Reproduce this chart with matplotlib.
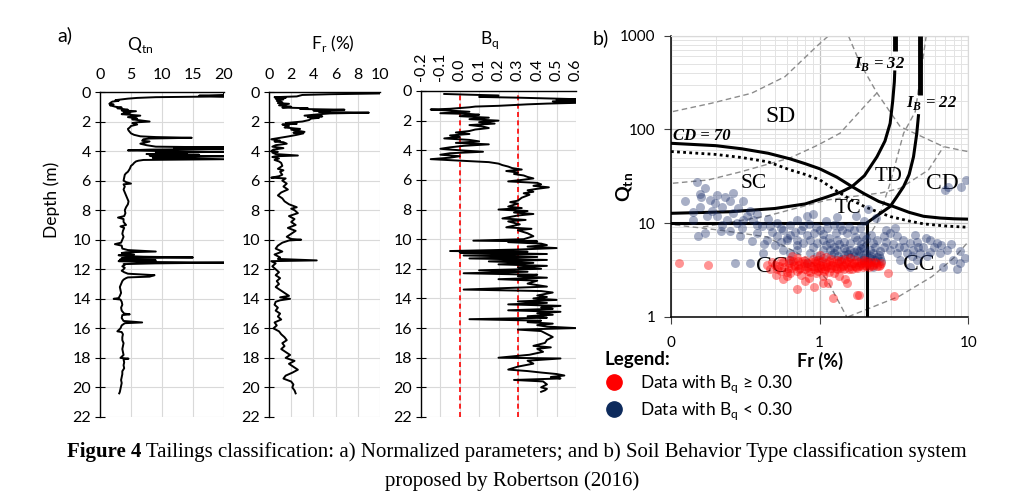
import numpy as np
import matplotlib
matplotlib.use("Agg")
import matplotlib.pyplot as plt
from matplotlib.lines import Line2D
from matplotlib.ticker import LogLocator, NullFormatter

# ========================= Data =========================
# CPT profile: normalized cone resistance Qtn vs depth (m)
qtn_depth = [0.00, 0.10, 0.20, 0.25, 0.30, 0.35, 0.40, 0.45, 0.50, 0.55, 0.60, 0.65, 0.70, 0.80, 0.85, 0.90,
             1.00, 1.05, 1.10, 1.20, 1.25, 1.30, 1.40, 1.45, 1.50, 1.60, 1.70, 1.80, 1.85, 1.95, 2.00, 2.05,
             2.10, 2.20, 2.30, 2.40, 2.50, 2.60, 2.70, 2.80, 2.90, 3.00, 3.05, 3.10, 3.15, 3.20, 3.30, 3.35,
             3.40, 3.50, 3.60, 3.70, 3.75, 3.80, 3.85, 3.90, 3.95, 4.00, 4.05, 4.10, 4.15, 4.20, 4.25, 4.30,
             4.35, 4.40, 4.45, 4.50, 4.55, 4.60, 4.65, 4.70, 4.80, 4.90, 5.00, 5.20, 5.40, 5.50, 5.60, 5.80,
             6.00, 6.10, 6.20, 6.25, 6.40, 6.60, 6.80, 7.00, 7.20, 7.40, 7.60, 7.80, 8.00, 8.20, 8.40, 8.50,
             8.60, 8.80, 9.00, 9.10, 9.20, 9.40, 9.60, 9.80, 10.00, 10.20, 10.30, 10.40, 10.60, 10.70, 10.80,
             10.85, 10.90, 11.00, 11.05, 11.10, 11.15, 11.20, 11.25, 11.30, 11.35, 11.40, 11.45, 11.50, 11.55,
             11.60, 11.65, 11.70, 11.80, 11.90, 12.00, 12.10, 12.20, 12.30, 12.40, 12.50, 12.55, 12.60, 12.70,
             12.80, 13.00, 13.20, 13.40, 13.60, 13.80, 13.95, 14.00, 14.05, 14.20, 14.40, 14.60, 14.80, 15.00,
             15.05, 15.10, 15.30, 15.50, 15.60, 15.65, 15.80, 16.00, 16.20, 16.25, 16.40, 16.60, 16.80, 17.00,
             17.20, 17.40, 17.60, 17.80, 18.00, 18.05, 18.10, 18.30, 18.50, 18.70, 18.90, 19.10, 19.30, 19.50,
             19.70, 19.90, 20.10, 20.30, 20.40]
qtn_vals = [20, 20, 20, 16, 20, 9, 6, 4.5, 3.5, 2.5, 3.0, 2.0, 1.8, 1.5, 2.2, 1.6,
            2.5, 3.5, 2.8, 4.5, 3.5, 5.8, 3.8, 4.8, 3.5, 6.5, 4.5, 6.0, 5.2, 7.0, 8.0, 6.0,
            5.2, 6.0, 5.0, 4.8, 4.5, 4.6, 4.8, 5.0, 5.5, 6.5, 9.0, 14.8, 8.0, 7.0, 6.8, 8.0,
            7.5, 6.5, 7.5, 9.0, 20, 12, 20, 8.0, 4.5, 10.0, 20, 9.0, 14, 7.5, 16, 8.0,
            20, 12, 8.5, 14, 20, 7.0, 6.2, 5.8, 5.5, 5.3, 5.0, 4.8, 4.5, 4.2, 4.0, 3.9,
            3.8, 4.2, 5.0, 3.8, 4.0, 3.8, 4.0, 4.2, 4.4, 4.6, 4.5, 4.2, 4.0, 4.1, 3.9, 2.9,
            3.8, 3.8, 4.2, 3.3, 3.9, 3.7, 3.6, 3.8, 3.6, 3.4, 2.4, 3.5, 3.6, 4.5, 9.0,
            4.2, 3.5, 5.5, 3.0, 4.0, 7.0, 15.0, 3.5, 5.5, 3.2, 9.0, 3.0, 6.0, 20,
            9.0, 3.8, 4.0, 3.6, 4.0, 3.8, 3.5, 3.9, 4.5, 8.8, 8.0, 4.5, 4.2, 3.8,
            3.6, 3.4, 3.2, 3.3, 3.4, 3.2, 3.0, 2.2, 3.3, 3.5, 3.6, 3.4, 3.5, 3.9,
            4.8, 3.6, 3.5, 3.8, 6.8, 4.0, 3.5, 3.3, 2.8, 3.5, 3.7, 3.6, 3.6, 3.8,
            3.7, 3.6, 3.7, 3.8, 3.3, 4.6, 3.8, 3.9, 3.8, 3.9, 3.6, 3.6, 3.5, 3.4,
            3.5, 3.4, 3.3, 3.2, 3.1]

# friction ratio Fr (%) vs depth (m)
fr_depth = [0.00, 0.10, 0.15, 0.20, 0.30, 0.35, 0.40, 0.45, 0.50, 0.60, 0.70, 0.75, 0.80, 0.90, 1.00, 1.05,
            1.10, 1.15, 1.20, 1.25, 1.30, 1.35, 1.40, 1.45, 1.50, 1.60, 1.65, 1.70, 1.75, 1.80, 1.90, 2.00,
            2.05, 2.10, 2.15, 2.20, 2.30, 2.40, 2.50, 2.55, 2.60, 2.70, 2.75, 2.80, 2.90, 3.00, 3.10, 3.20,
            3.30, 3.35, 3.40, 3.50, 3.60, 3.70, 3.80, 3.90, 4.00, 4.05, 4.10, 4.20, 4.30, 4.35, 4.40, 4.50,
            4.60, 4.70, 4.80, 5.00, 5.20, 5.30, 5.40, 5.60, 5.70, 5.80, 5.85, 6.00, 6.20, 6.40, 6.60, 6.80,
            7.00, 7.20, 7.40, 7.60, 7.80, 7.90, 8.00, 8.20, 8.40, 8.60, 8.80, 9.00, 9.20, 9.40, 9.60, 9.80,
            9.95, 10.00, 10.05, 10.20, 10.40, 10.60, 10.80, 11.00, 11.20, 11.30, 11.40, 11.45, 11.60, 11.80,
            12.00, 12.20, 12.40, 12.60, 12.80, 13.00, 13.20, 13.40, 13.60, 13.80, 13.90, 14.00, 14.10, 14.20,
            14.40, 14.60, 14.80, 15.00, 15.20, 15.40, 15.60, 15.80, 16.00, 16.20, 16.40, 16.60, 16.80, 17.00,
            17.20, 17.40, 17.60, 17.80, 18.00, 18.20, 18.40, 18.60, 18.80, 19.00, 19.20, 19.40, 19.60, 19.80,
            20.00, 20.20, 20.40]
fr_vals = [10, 10, 5.5, 3.0, 2.5, 0.5, 1.5, 0.6, 1.3, 0.7, 1.2, 0.8, 1.8, 0.9, 2.0, 1.2,
           3.5, 2.8, 6.8, 4.0, 5.5, 4.5, 9.0, 5.5, 4.6, 3.2, 4.8, 3.5, 4.5, 3.8, 3.6, 3.0,
           2.2, 1.5, 2.5, 1.2, 1.8, 1.4, 2.8, 2.0, 2.4, 3.2, 2.2, 3.1, 2.5, 1.8, 1.0, 0.2,
           1.0, 0.5, 1.3, 1.6, 0.6, 0.3, 1.3, 0.4, 0.2, 0.8, 0.3, 0.6, 2.6, 0.6, 0.3, 0.9,
           0.5, 0.9, 1.1, 1.2, 0.8, 1.3, 1.0, 1.2, 0.9, 0.2, 1.5, 1.2, 1.6, 1.3, 1.7, 1.1,
           0.8, 1.2, 1.4, 1.8, 2.5, 2.0, 2.3, 2.6, 1.8, 2.3, 2.0, 2.4, 1.7, 2.4, 2.0, 1.6,
           2.0, 2.9, 1.8, 1.2, 0.8, 0.6, 1.2, 0.5, 1.0, 0.8, 4.3, 0.2, 0.6, 0.3,
           0.6, 0.9, 0.6, 1.0, 0.7, 0.9, 0.6, 1.0, 1.4, 1.8, 1.0, 1.9, 1.0, 0.6,
           0.5, 0.8, 0.6, 1.0, 0.8, 1.1, 0.5, 0.7, 0.4, 0.9, 1.1, 1.4, 1.6, 1.2,
           1.4, 1.1, 1.5, 1.9, 1.5, 2.3, 1.8, 2.2, 2.6, 2.1, 1.5, 1.3, 2.0, 2.2,
           2.1, 2.3, 2.4]

# pore pressure ratio Bq vs depth (m)
bq_depth = [0.20, 0.25, 0.30, 0.40, 0.45, 0.50, 0.55, 0.60, 0.65, 0.70, 0.80, 0.85, 0.90, 1.00, 1.05, 1.10,
            1.20, 1.25, 1.30, 1.40, 1.50, 1.55, 1.60, 1.70, 1.80, 1.90, 2.00, 2.10, 2.20, 2.30, 2.40, 2.50,
            2.60, 2.70, 2.80, 2.90, 3.00, 3.10, 3.20, 3.30, 3.40, 3.50, 3.60, 3.70, 3.80, 3.90, 4.00, 4.10,
            4.20, 4.30, 4.40, 4.50, 4.60, 4.70, 4.80, 4.90, 5.00, 5.10, 5.20, 5.30, 5.40, 5.50, 5.60, 5.70,
            5.80, 5.90, 6.00, 6.10, 6.20, 6.30, 6.40, 6.50, 6.60, 6.70, 6.80, 6.90, 7.00, 7.20, 7.40, 7.50,
            7.60, 7.80, 7.90, 8.00, 8.10, 8.20, 8.30, 8.40, 8.60, 8.70, 8.80, 9.00, 9.20, 9.30, 9.40, 9.60,
            9.80, 10.00, 10.10, 10.15, 10.20, 10.30, 10.40, 10.50, 10.60, 10.70, 10.80, 10.85, 10.90, 11.00,
            11.10, 11.20, 11.30, 11.40, 11.50, 11.60, 11.70, 11.80, 11.90, 12.00, 12.10, 12.20, 12.30, 12.40,
            12.50, 12.60, 12.70, 12.80, 13.00, 13.20, 13.40, 13.50, 13.60, 13.80, 13.90, 14.00, 14.10, 14.20,
            14.30, 14.40, 14.50, 14.60, 14.70, 14.80, 14.90, 15.00, 15.10, 15.20, 15.30, 15.40, 15.50, 15.60,
            15.70, 15.80, 15.90, 16.00, 16.10, 16.20, 16.40, 16.60, 16.80, 17.00, 17.20, 17.30, 17.40, 17.60,
            17.80, 18.00, 18.05, 18.20, 18.40, 18.60, 18.80, 18.90, 19.00, 19.10, 19.20, 19.30, 19.40, 19.50,
            19.60, 19.80, 20.00, 20.10, 20.20, 20.30]
bq_vals = [-0.08, 0.05, 0.2, 0.1, 0.3, 0.45, 0.6, 0.5, 0.6, 0.48, 0.6, 0.45, 0.35, 0.2, 0.08, 0.05,
           -0.05, -0.15, -0.08, 0.05, -0.1, 0.05, 0.1, 0.0, 0.15, 0.05, 0.2, 0.1, 0.18, 0.05, 0.12, 0.15,
           0.08, 0.05, -0.02, 0.05, -0.05, 0.0, -0.08, 0.05, 0.1, -0.02, 0.15, 0.02, -0.05, -0.1, 0.0, 0.12,
           -0.05, -0.1, 0.0, -0.05, -0.15, 0.0, 0.15, 0.2, 0.22, 0.25, 0.27, 0.32, 0.24, 0.3, 0.28, 0.33,
           0.35, 0.38, 0.32, 0.25, 0.4, 0.42, 0.38, 0.46, 0.4, 0.35, 0.38, 0.33, 0.36, 0.32, 0.3, 0.26,
           0.3, 0.25, 0.32, 0.2, 0.35, 0.28, 0.38, 0.3, 0.22, 0.34, 0.25, 0.31, 0.24, 0.37, 0.3, 0.35,
           0.38, 0.33, 0.07, 0.4, 0.25, 0.42, 0.45, 0.35, 0.5, 0.3, -0.05, 0.35, 0.0, 0.45,
           0.02, 0.4, 0.05, 0.45, 0.15, 0.38, 0.2, 0.45, 0.3, 0.42, 0.1, 0.35, 0.02, 0.4,
           0.3, 0.45, 0.2, 0.4, 0.35, 0.45, 0.02, 0.42, 0.48, 0.4, 0.45, 0.38, 0.5, 0.3,
           0.45, 0.25, 0.52, 0.42, 0.48, 0.25, 0.52, 0.4, 0.48, 0.35, 0.45, 0.05, 0.42, 0.35,
           0.48, 0.4, 0.45, 0.6, 0.3, 0.42, 0.45, 0.48, 0.45, 0.44, 0.38, 0.47, 0.4, 0.43,
           0.36, 0.2, 0.52, 0.35, 0.38, 0.3, 0.25, 0.35, 0.42, 0.5, 0.54, 0.47, 0.52, 0.28,
           0.43, 0.45, 0.42, 0.45, 0.44, 0.42]
bq_limits = [0.0, 0.3]

# SBTn chart boundaries (Robertson 2016)
cd70_fr = [0.1, 0.2, 0.3, 0.45, 0.63, 0.8, 1.0, 1.3, 1.65, 2.0, 2.5, 3.14, 4.0, 5.0, 6.5, 8.0, 10]
cd70_q = [71, 67, 62, 55.6, 48.5, 43, 38, 31, 24.5, 20.5, 17, 15, 13, 11.8, 11.3, 11.1, 11.0]
dot_fr = [0.1, 0.2, 0.3, 0.45, 0.63, 0.8, 1.0, 1.3, 1.65, 2.0, 2.5, 3.0, 4.0, 5.0, 7.0, 10]
dot_q = [58, 54, 50, 45, 37, 33, 29, 22, 17.5, 15, 13, 11.7, 10.5, 9.8, 9.3, 9.0]
ib32_fr = [0.1, 0.25, 0.5, 0.8, 1.1, 1.4, 1.65, 2.0, 2.43, 2.75, 2.98, 3.1, 3.18, 3.2]
ib32_q = [12.7, 13.2, 14.3, 16, 18.8, 21.5, 24.5, 32, 51, 75, 116, 200, 320, 410]
ib32_top_fr = [3.2, 3.2]
ib32_top_q = [690, 1000]
ib22_fr = [2.07, 2.4, 2.98, 3.3, 3.67, 4.0, 4.28, 4.5, 4.62]
ib22_q = [10, 11.8, 15, 19, 24.5, 33, 51, 90, 140]
ib22_top_fr = [4.75, 4.75]
ib22_top_q = [230, 1000]
cc_box_fr = [0.1, 2.07, 2.07]
cc_box_q = [10, 10, 1]

# background dashed contours
dashed_lines = [
    ([0.103, 0.187, 0.348, 0.584, 0.977, 1.15], [155, 190, 243, 365, 796, 1000]),
    ([1.56, 1.87, 2.43, 3.48, 6.82, 10], [1000, 508, 245, 107, 65.4, 57.8]),
    ([0.103, 0.177, 0.292, 0.632, 0.977, 1.37, 2.19, 2.43], [26.6, 28.8, 35.1, 49.5, 68.2, 90.9, 206, 245]),
    ([0.106, 0.207, 0.443, 0.863, 1.12, 1.52], [9.55, 8.44, 7.11, 4.04, 2.47, 1.0]),
    ([1.56, 3.40, 5.70, 8.17, 10], [1.0, 1.64, 2.68, 4.38, 6.33]),
    ([0.164, 0.443, 1.12, 1.8, 2.6, 3.48, 5.4, 6.82], [9.08, 11.9, 17.6, 19.5, 21, 23.5, 36.9, 65.4]),
    ([5.21, 4.40, 3.67, 2.98, 2.43, 1.87], [1000, 155, 90.9, 26.6, 9.95, 5.16]),
]

# CPT data points on the chart, (Fr %, Qtn)
blue_pts = [(0.149, 27.6), (0.157, 20.5), (0.169, 23.4), (0.183, 17.6), (0.203, 19.8), (0.198, 16.2),
            (0.219, 15.0), (0.231, 19.0), (0.249, 17.2), (0.262, 12.7), (0.283, 14.4), (0.306, 17.2),
            (0.323, 11.8), (0.340, 13.5), (0.157, 15.0), (0.174, 11.8), (0.203, 11.8), (0.237, 10.9),
            (0.276, 10.0), (0.306, 10.9), (0.358, 10.9), (0.377, 9.6), (0.141, 10.9), (0.124, 17.2),
            (0.159, 19.0), (0.152, 7.2), (0.169, 7.8), (0.217, 8.2), (0.268, 3.7), (0.249, 8.2),
            (0.291, 7.2), (0.377, 7.8), (0.407, 9.2), (0.464, 9.2), (0.514, 10.0), (0.570, 8.5),
            (0.632, 9.6), (0.701, 10.9), (0.777, 9.2), (0.82, 11.8), (0.632, 7.5), (0.514, 7.2),
            (0.44, 6.6), (0.60, 6.6), (0.701, 6.6), (0.82, 7.5), (0.91, 7.8), (1.0, 8.5),
            (1.12, 8.8), (1.24, 9.6), (1.37, 9.2), (1.52, 7.8), (1.69, 8.5), (1.87, 8.8),
            (0.777, 6.1), (0.862, 6.6), (0.956, 6.1), (1.06, 6.6), (1.175, 6.1), (1.30, 6.6),
            (1.45, 6.3), (1.60, 6.1), (1.78, 6.6), (1.97, 7.2), (1.06, 5.2), (1.175, 5.2),
            (1.30, 5.2), (1.45, 5.4), (1.60, 5.2), (1.78, 5.2), (1.97, 5.6), (2.18, 5.2),
            (2.30, 6.1), (2.42, 6.6), (2.69, 7.2), (2.97, 7.8), (3.30, 7.2), (3.66, 6.6),
            (4.05, 6.1), (4.49, 6.3), (4.98, 5.6), (5.53, 6.6), (6.13, 6.1), (2.69, 5.6),
            (2.97, 5.2), (3.30, 4.8), (3.85, 4.8), (4.27, 5.2), (4.73, 4.8), (5.25, 4.4),
            (6.45, 4.8), (7.15, 5.2), (7.93, 4.0), (8.8, 3.7), (6.79, 3.4), (8.35, 3.2),
            (3.48, 4.0), (4.05, 3.4), (4.49, 4.0), (9.6, 28.8), (7.35, 24.4), (7.0, 22.5),
            (9.0, 24.0), (0.418, 4.8), (0.340, 3.7), (0.570, 5.2), (0.632, 4.8), (0.701, 5.2),
            (0.862, 4.8), (0.956, 4.4), (1.06, 4.2), (1.24, 4.8), (1.45, 4.6), (1.69, 4.4),
            (1.97, 4.6), (2.18, 4.2), (2.36, 4.0), (2.55, 4.2), (2.30, 3.4), (0.632, 4.0),
            (0.82, 3.7), (2.0, 10.5), (2.4, 11.2), (1.75, 12.0), (2.1, 14.0), (1.8, 4.4),
            (1.9, 4.0), (2.0, 4.2), (2.1, 3.9), (2.2, 4.5), (1.7, 4.9), (1.6, 4.3),
            (1.5, 5.0), (1.4, 4.1), (2.3, 4.8), (2.5, 4.6), (2.6, 3.9), (1.25, 5.6), (1.35, 6.0),
            (0.48, 8.0), (0.55, 8.8), (0.6, 7.0), (0.68, 8.0), (0.75, 8.4), (0.85, 9.8),
            (0.95, 9.0), (1.05, 7.6), (1.15, 7.0), (1.28, 7.9), (1.42, 8.5), (1.58, 9.0),
            (1.72, 7.1), (1.9, 6.0), (2.05, 6.8), (2.2, 7.5), (2.35, 5.5), (2.55, 5.0),
            (2.8, 6.3), (3.1, 6.0), (3.4, 5.6), (3.7, 5.5), (4.2, 4.4), (4.6, 5.6),
            (5.5, 4.9), (5.9, 5.5), (6.6, 5.8), (7.6, 6.0), (8.8, 5.0), (9.5, 4.2),
            (0.5, 5.8), (0.55, 6.2), (0.7, 5.8), (0.9, 5.6), (1.1, 5.8), (1.2, 4.6),
            (1.33, 4.4), (1.55, 4.7), (1.85, 5.0), (2.05, 4.8), (2.25, 4.1), (2.45, 4.3),
            (2.0, 3.7), (1.9, 5.4), (0.42, 6.0), (0.35, 6.5), (0.3, 8.8), (0.22, 9.5),
            (0.19, 13.5), (0.26, 21.0), (0.14, 13.0), (0.38, 12.5), (0.45, 11.0), (0.9, 12.5),
            (1.1, 10.5), (1.3, 11.5), (2.8, 8.5), (3.2, 8.8), (4.4, 7.4), (5.2, 7.0)]
red_pts = [(0.114, 3.7), (0.177, 3.6),
           (0.5, 3.6), (0.52, 3.2), (0.55, 3.9), (0.58, 3.4), (0.6, 3.0), (0.62, 3.7), (0.64, 3.3),
           (0.66, 3.9), (0.68, 3.5), (0.7, 3.1), (0.72, 3.6), (0.74, 3.3), (0.76, 3.9), (0.78, 3.5),
           (0.8, 3.2), (0.82, 3.7), (0.84, 3.4), (0.86, 3.0), (0.88, 3.8), (0.9, 3.5), (0.92, 3.2),
           (0.94, 3.7), (0.96, 3.4), (0.98, 3.1), (1.0, 3.6), (1.02, 3.3), (1.04, 3.9), (1.06, 3.5),
           (1.08, 3.2), (1.1, 3.7), (1.12, 3.4), (1.15, 3.0), (1.18, 3.6), (1.2, 3.3), (1.23, 3.8),
           (1.26, 3.5), (1.3, 3.2), (1.33, 3.7), (1.36, 3.4), (1.4, 3.9), (1.43, 3.5), (1.46, 3.2),
           (1.5, 3.7), (1.54, 3.4), (1.58, 3.8), (1.62, 3.5), (1.66, 3.2), (1.7, 3.7), (1.75, 3.4),
           (1.8, 3.8), (1.85, 3.5), (1.9, 3.7), (1.95, 3.4), (2.0, 3.8), (2.05, 3.5), (2.1, 3.7),
           (2.15, 3.4), (2.2, 3.8), (2.3, 3.6), (2.4, 3.7), (2.5, 3.5), (2.6, 3.7), (0.7, 4.2),
           (0.9, 4.1), (1.1, 4.3), (1.3, 4.0), (1.6, 4.2), (0.6, 2.7), (0.75, 2.8), (0.95, 2.9),
           (1.25, 2.9), (0.85, 2.6), (1.05, 2.7), (0.65, 4.4), (1.0, 4.6), (0.55, 3.1), (0.63, 2.9),
           (0.57, 2.5), (0.51, 2.8), (0.70, 2.0), (0.91, 2.1), (1.06, 2.3), (1.23, 1.6), (1.78, 1.7),
           (1.52, 2.3), (1.14, 2.3), (1.47, 2.5), (1.83, 1.7), (3.14, 1.66), (2.9, 2.9), (0.46, 3.2),
           (0.48, 3.8), (0.44, 3.6), (0.8, 2.4), (1.35, 2.7),
           (0.53, 3.5), (0.57, 3.8), (0.61, 3.3), (0.67, 3.6), (0.71, 3.9), (0.73, 3.2), (0.79, 3.7),
           (0.83, 3.1), (0.87, 3.5), (0.93, 3.9), (0.97, 3.3), (1.01, 3.8), (1.07, 3.1), (1.11, 3.5),
           (1.16, 3.9), (1.21, 3.6), (1.28, 3.3), (1.34, 3.9), (1.39, 3.3), (1.45, 3.6), (1.52, 3.9),
           (1.57, 3.2), (1.64, 3.7), (1.72, 3.5), (1.78, 3.3), (1.88, 3.6), (1.98, 3.6), (2.08, 3.9),
           (2.18, 3.6), (2.25, 3.5), (2.35, 3.8), (2.45, 3.5), (2.55, 3.6), (0.62, 4.0), (0.8, 4.0),
           (0.98, 4.0), (1.2, 4.1), (1.45, 4.1), (1.75, 4.0), (2.0, 4.0)]

# ========================= Plot =========================
W, H = 1024, 501
SANS = ["Lato", "DejaVu Sans"]
SERIF = ["Liberation Serif", "DejaVu Serif"]
plt.rcParams["font.family"] = SANS
GRID = "#d9d9d9"

fig = plt.figure(figsize=(W / 100, H / 100), dpi=100)


def px_axes(left, top, right, bottom):
    return fig.add_axes([left / W, 1 - bottom / H, (right - left) / W, (bottom - top) / H])


def ftext(x, y, s, **kw):
    return fig.text(x / W, 1 - y / H, s, **kw)


def depth_panel(ax, depth, vals, xlim, xticks):
    ax.plot(vals, depth, color="black", lw=1.4, zorder=3)
    ax.set_xlim(*xlim)
    ax.set_ylim(22, 0)
    ax.set_xticks(xticks)
    ax.set_yticks(range(0, 23, 2))
    ax.xaxis.tick_top()
    ax.grid(True, color=GRID, lw=0.8)
    ax.set_axisbelow(True)
    for s in ("right", "bottom"):
        ax.spines[s].set_visible(False)
    for s in ("left", "top"):
        ax.spines[s].set_linewidth(1.0)
    ax.tick_params(axis="y", direction="inout", length=7, labelsize=11.5, pad=3)
    ax.tick_params(axis="x", length=0, labelsize=11.5, pad=7)


ax1 = px_axes(100, 92, 224, 417)
depth_panel(ax1, qtn_depth, qtn_vals, (0, 20), [0, 5, 10, 15, 20])
ax2 = px_axes(269, 92, 380, 417)
depth_panel(ax2, fr_depth, fr_vals, (0, 10), [0, 2, 4, 6, 8, 10])
ax3 = px_axes(421, 91, 576, 417)
depth_panel(ax3, bq_depth, bq_vals, (-0.2, 0.6), np.round(np.arange(-0.2, 0.61, 0.1), 1))
ax3.set_xticklabels([f"{v:.1f}" for v in ax3.get_xticks()], rotation=90)
ax3.tick_params(axis="x", pad=7)
for v in bq_limits:
    ax3.axvline(v, color="red", ls=(0, (3, 2)), lw=1.2, zorder=2)

ftext(65, 35, "a)", size=14, ha="center", va="center")
ftext(140, 45, "Q$_\\mathregular{tn}$", size=12.5, ha="center", va="center")
ftext(333, 43, "F$_\\mathregular{r}$ (%)", size=12.5, ha="center", va="center")
ftext(490, 40, "B$_\\mathregular{q}$", size=12.5, ha="center", va="center")
ftext(52, 200, "Depth (m)", size=12.5, rotation=90, ha="center", va="center")

# ---- panel b: SBTn chart
ax4 = px_axes(671, 35.7, 968.3, 316.7)
ax4.set_xscale("log")
ax4.set_yscale("log")
ax4.set_xlim(0.1, 10)
ax4.set_ylim(1, 1000)
ax4.xaxis.set_minor_locator(LogLocator(base=10, subs=np.arange(2, 10)))
ax4.yaxis.set_minor_locator(LogLocator(base=10, subs=np.arange(2, 10)))
ax4.xaxis.set_minor_formatter(NullFormatter())
ax4.yaxis.set_minor_formatter(NullFormatter())
ax4.grid(True, which="minor", color="#e3e3e3", lw=0.7)
ax4.grid(True, which="major", color="#c4c4c4", lw=0.9)
ax4.set_axisbelow(True)
ax4.set_xticks([0.1, 1, 10])
ax4.set_xticklabels(["0", "1", "10"])
ax4.set_yticks([1, 10, 100, 1000])
ax4.set_yticklabels(["1", "10", "100", "1000"])
ax4.tick_params(which="minor", length=0)
ax4.tick_params(which="major", length=5, labelsize=11, color="#404040")
ax4.tick_params(axis="x", pad=9)
ax4.tick_params(axis="y", pad=6)
for s in ("top", "right"):
    ax4.spines[s].set_color(GRID)
for s in ("left", "bottom"):
    ax4.spines[s].set_linewidth(1.1)

for fr, q in dashed_lines:
    ax4.plot(fr, q, color="#8c8c8c", lw=1.0, ls=(0, (4, 2.5)), zorder=2)
ax4.plot(cd70_fr, cd70_q, color="black", lw=2.2, zorder=3)
ax4.plot(dot_fr, dot_q, color="black", lw=2.0, ls=(0, (1, 1.2)), zorder=3)
ax4.plot(ib32_fr, ib32_q, color="black", lw=2.2, zorder=3)
ax4.plot(ib32_top_fr, ib32_top_q, color="black", lw=3.5, zorder=3, solid_capstyle="butt")
ax4.plot(ib22_fr, ib22_q, color="black", lw=2.2, zorder=3)
ax4.plot(ib22_top_fr, ib22_top_q, color="black", lw=3.5, zorder=3, solid_capstyle="butt")
ax4.plot(cc_box_fr, cc_box_q, color="black", lw=2.2, zorder=3)

zone_labels = [("SD", 0.542, 137, 17), ("SC", 0.358, 26.6, 15.5), ("TD", 2.9, 31.3, 15),
               ("CD", 6.65, 26.6, 17), ("TC", 1.56, 14.4, 15), ("CC", 0.476, 3.43, 17),
               ("CC", 4.62, 3.6, 17)]
for name, fr, q, size in zone_labels:
    ax4.text(fr, q, name, family=SERIF, size=size, ha="center", va="center", zorder=2.5)
ax4.text(0.103, 85, "CD = 70", family=SERIF, style="italic", weight="bold", size=12,
         ha="left", va="center", zorder=2.5)
ax4.text(2.52, 499, "I$_\\mathregular{B}$ = 32", family=SERIF, style="italic", weight="bold",
         size=12, ha="center", va="center", zorder=2.5)
ax4.text(5.64, 189, "I$_\\mathregular{B}$ = 22", family=SERIF, style="italic", weight="bold",
         size=12, ha="center", va="center", zorder=2.5)

blue_fr, blue_q = zip(*blue_pts)
red_fr, red_q = zip(*red_pts)
ax4.scatter(blue_fr, blue_q, s=42, color="#1a2f6b", alpha=0.38, lw=0, zorder=4)
ax4.scatter(red_fr, red_q, s=42, color="#ff0000", alpha=0.42, lw=0, zorder=5)

ftext(601, 38, "b)", size=14, ha="center", va="center")
ftext(625, 187, "Q$_\\mathregular{tn}$", size=14, weight="bold", rotation=90, ha="center", va="center")
ftext(820, 361, "Fr (%)", size=13, weight="bold", ha="center", va="center")

handles = [Line2D([], [], ls="none", marker="o", ms=11, color="#ff0000"),
           Line2D([], [], ls="none", marker="o", ms=11, color="#0d2a5c")]
labels = ["Data with B$_\\mathregular{q}$ \u2265 0.30", "Data with B$_\\mathregular{q}$ < 0.30"]
fig.legend(handles, labels, loc="upper left", bbox_to_anchor=(604 / W, 1 - 351 / H), frameon=False,
           title="Legend:", title_fontproperties={"weight": "bold", "size": 13.5}, alignment="left",
           fontsize=12.5, handletextpad=0.85, labelspacing=0.3, borderpad=0, borderaxespad=0,
           handlelength=1.2)

# ---- caption
CAP = 15
r = fig.canvas.get_renderer()
t_bold = ftext(0, 452, "Figure 4", family=SERIF, weight="bold", size=CAP, va="center")
t_rest = ftext(0, 452, " Tailings classification: a) Normalized parameters; and b) Soil Behavior Type "
                       "classification system", family=SERIF, size=CAP, va="center")
w1 = t_bold.get_window_extent(r).width
w2 = t_rest.get_window_extent(r).width
x0 = 517 - (w1 + w2) / 2
t_bold.set_x(x0 / W)
t_rest.set_x((x0 + w1) / W)
ftext(512, 481, "proposed by Robertson (2016)", family=SERIF, size=CAP, ha="center", va="center")

fig.savefig("out.png", dpi=100)
